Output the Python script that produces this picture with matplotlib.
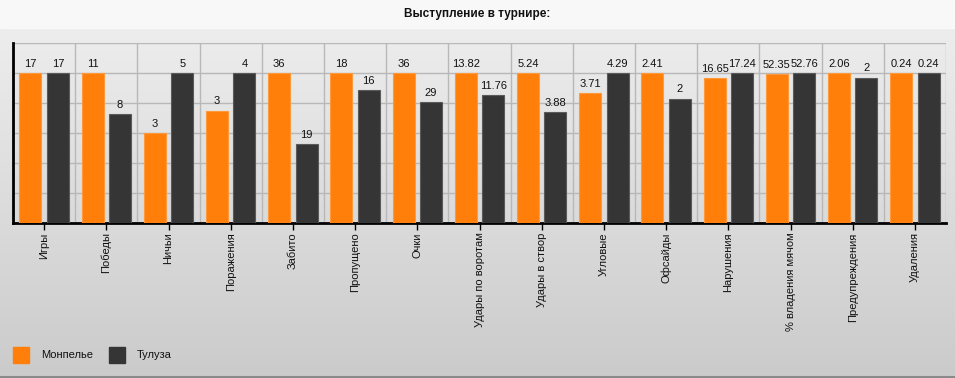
import matplotlib
matplotlib.use("Agg")
import matplotlib.pyplot as plt
import numpy as np
from matplotlib.patches import Rectangle

plt.rcParams["font.family"] = ["Liberation Sans", "DejaVu Sans"]

categories = ["Игры", "Победы", "Ничьи", "Поражения", "Забито", "Пропущено",
              "Очки", "Удары по воротам", "Удары в створ", "Угловые",
              "Офсайды", "Нарушения", "% владения мячом", "Предупреждения",
              "Удаления"]
montpellier = [17, 11, 3, 3, 36, 18, 36, 13.82, 5.24, 3.71, 2.41, 16.65,
               52.35, 2.06, 0.24]
toulouse = [17, 8, 5, 4, 19, 16, 29, 11.76, 3.88, 4.29, 2, 17.24,
            52.76, 2, 0.24]
series_names = ["Монпелье", "Тулуза"]

ORANGE = "#ff7f0a"
DARK = "#353535"

fig = plt.figure(figsize=(9.55, 3.78), dpi=100)

# background: light title band + vertical gradient
bg = fig.add_axes([0, 0, 1, 1], zorder=-10)
bg.axis("off")
grad = np.linspace(0, 1, 300).reshape(-1, 1)
bg.imshow(grad, cmap=matplotlib.colors.LinearSegmentedColormap.from_list(
    "g", ["#ededed", "#cbcbcb"]), aspect="auto", extent=[0, 1, 0, 1 - 28 / 378])
bg.add_patch(Rectangle((0, 1 - 28 / 378), 1, 28 / 378, color="#f8f8f8"))
bg.plot([0, 1], [0.003, 0.003], color="#8a8a8a", lw=1.5)
bg.set_xlim(0, 1)
bg.set_ylim(0, 1)

ax = fig.add_axes([13 / 955, 1 - 222.7 / 378, 933 / 955, 179.4 / 378])
ax.patch.set_alpha(0)

x = np.arange(len(categories))
m = np.array(montpellier, dtype=float)
t = np.array(toulouse, dtype=float)
top = np.maximum(m, t)
w = 0.355
off = 0.22

ax.bar(x - off, m / top, w, color=ORANGE, edgecolor="#ff9a3c", lw=0.8, zorder=3)
ax.bar(x + off, t / top, w, color=DARK, edgecolor="#5a5a5a", lw=0.8, zorder=3)

for xi, v, h in zip(x - off, m, m / top):
    ax.annotate(f"{v:g}", (xi, h), xytext=(0, 3), textcoords="offset points",
                ha="center", va="bottom", fontsize=8, color="#111111")
for xi, v, h in zip(x + off, t, t / top):
    ax.annotate(f"{v:g}", (xi, h), xytext=(0, 3), textcoords="offset points",
                ha="center", va="bottom", fontsize=8, color="#111111")

ax.set_xlim(-0.5, len(categories) - 0.5)
ax.set_ylim(0, 1.2)
ax.set_yticks(np.arange(0, 1.21, 0.2))
ax.set_yticklabels([])
ax.tick_params(axis="y", length=0)
ax.set_xticks(x)
ax.set_xticklabels(categories, rotation=90, fontsize=8, color="#111111")
ax.tick_params(axis="x", length=5, width=1, color="black", pad=2)
ax.set_xticks(np.arange(-0.5, len(categories), 1), minor=True)
ax.tick_params(axis="x", which="minor", length=0)
ax.grid(axis="y", color="#b8b8b8", lw=1, zorder=0)
ax.grid(axis="x", which="minor", color="#b8b8b8", lw=1, zorder=0)
ax.grid(axis="x", which="major", visible=False)

for s in ("top", "right"):
    ax.spines[s].set_visible(False)
ax.spines["left"].set_linewidth(2)
ax.spines["bottom"].set_linewidth(2)

fig.text(0.5, 1 - 14 / 378, "Выступление в турнире:", ha="center", va="center",
         fontsize=8.5, fontweight="bold", color="#111111")

# legend
for i, (name, col) in enumerate(zip(series_names, [ORANGE, DARK])):
    x0 = 13 + i * 96
    bg.add_patch(Rectangle((x0 / 955, 1 - 363 / 378), 16 / 955, 16 / 378,
                           color=col))
    fig.text((x0 + 28) / 955, 1 - 355.5 / 378, name, ha="left", va="center",
             fontsize=8, color="#111111")

fig.savefig("out.png", dpi=100)
